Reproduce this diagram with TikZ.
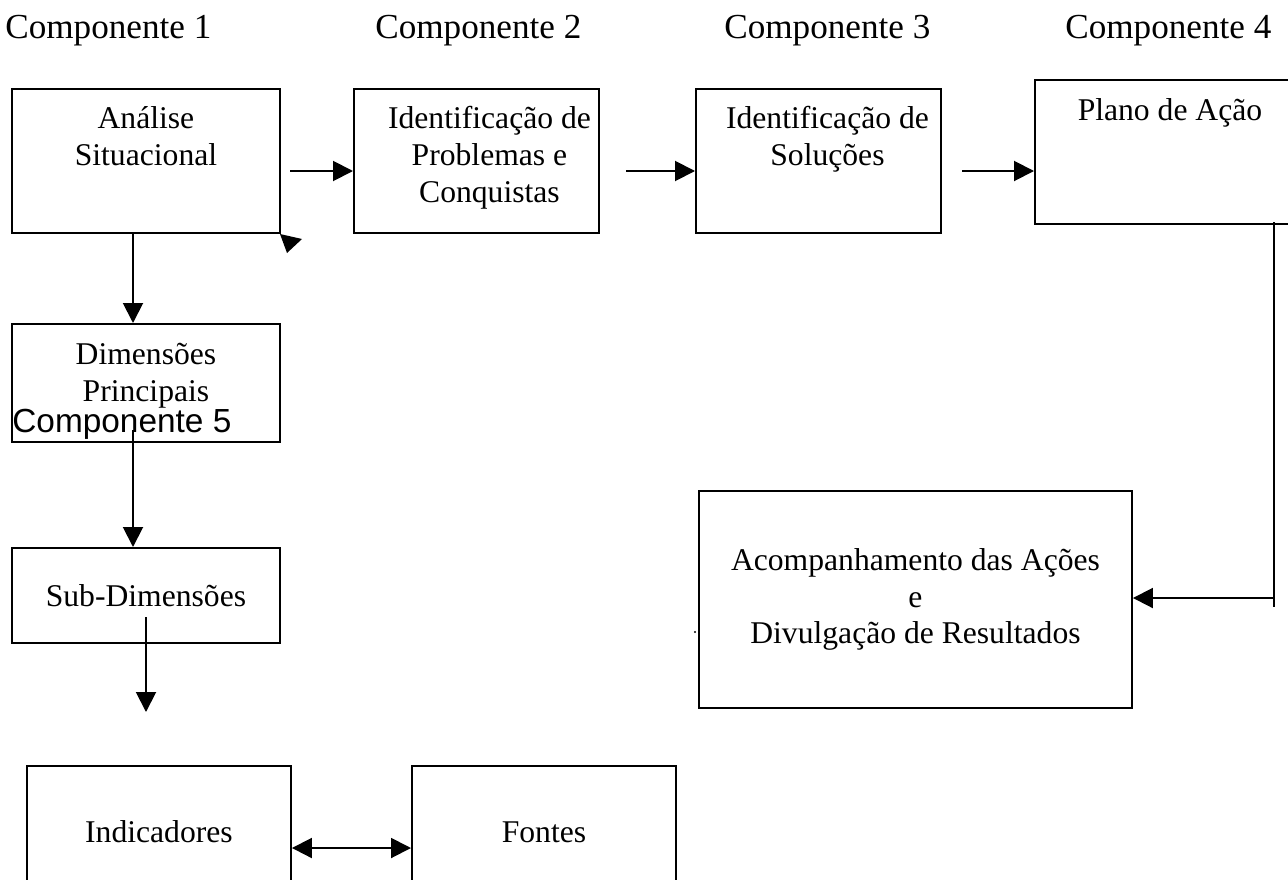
\documentclass[tikz,border=0pt]{standalone}
\usepackage{fontspec}
\setmainfont{Liberation Serif}
\newfontfamily\arialfont{Liberation Sans}
\usetikzlibrary{arrows.meta,positioning}
\tikzset{>={Triangle[length=4mm,width=4mm]}}
\tikzset{
	caixa/.style={draw,line width=1.1pt,inner sep=0pt,anchor=north west},
	rotulo/.style={inner sep=0pt,align=center},
	titulo/.style={inner sep=0pt,anchor=base west,font=\fontsize{20}{23}\selectfont},
	seta/.style={->,line width=1.1pt},
}

\begin{document}
\begin{tikzpicture}[font=\fontsize{18}{21}\selectfont]
	\useasboundingbox (0,0) rectangle (25.76,-17.58);
	% componentes
	\node[titulo] (c1) at (0.1,-0.78) {Componente 1};
	\node[titulo] (c2) at (7.5,-0.78) {Componente 2};
	\node[titulo] (c3) at (14.48,-0.78) {Componente 3};
	\node[titulo] (c4) at (21.3,-0.78) {Componente 4};
	% caixas de cima
	\node[caixa,minimum width=5.36cm,minimum height=2.88cm] (ana) at (0.22,-1.76) {};
	\node[rotulo,below=0.36 of ana.north] (anatxt) {Análise\\Situacional};
	\node[caixa,minimum width=4.9cm,minimum height=2.88cm] (prob) at (7.06,-1.76) {};
	\node[rotulo,below=0.36 of prob.north,xshift=0.26cm] (probtxt) {Identificação de\\Problemas e\\Conquistas};
	\node[caixa,minimum width=4.9cm,minimum height=2.88cm] (sol) at (13.9,-1.76) {};
	\node[rotulo,below=0.36 of sol.north,xshift=0.18cm] (soltxt) {Identificação de\\Soluções};
	\node[caixa,minimum width=5.4cm,minimum height=2.88cm] (plano) at (20.68,-1.58) {};
	\node[rotulo,below=0.38 of plano.north] (planotxt) {Plano de Ação};
	% coluna da esquerda
	\node[caixa,minimum width=5.36cm,minimum height=2.36cm] (dim) at (0.22,-6.46) {};
	\node[rotulo,below=0.4 of dim.north] (dimtxt) {Dimensões\\Principais};
	\node[titulo,font=\arialfont\fontsize{19}{22}\selectfont] (c5) at (0.24,-8.64) {Componente 5};
	\node[caixa,minimum width=5.36cm,minimum height=1.9cm] (sub) at (0.22,-10.94) {Sub-Dimensões};
	\node[caixa,minimum width=5.28cm,minimum height=2.64cm] (ind) at (0.52,-15.3) {Indicadores};
	\node[caixa,minimum width=5.28cm,minimum height=2.64cm] (fon) at (8.22,-15.3) {Fontes};
	\node[caixa,minimum width=8.66cm,minimum height=4.34cm,align=center] (acomp) at (13.96,-9.8) {Acompanhamento das Ações\\e\\Divulgação de Resultados};
	% setas
	\coordinate (h1) at (5.8,-3.42);
	\coordinate (h2) at (12.52,-3.42);
	\coordinate (h3) at (19.24,-3.42);
	\draw[seta] (h1) -- (h1 -| prob.west);
	\draw[seta] (h2) -- (h2 -| sol.west);
	\draw[seta] (h3) -- (h3 -| plano.west);
	\fill (5.6,-4.68) -- (6.04,-4.78) -- (5.74,-5.06) -- cycle;
	\coordinate (v1) at (2.66,-4.64);
	\coordinate (v2) at (2.66,-8.6);
	\coordinate (v3) at (2.92,-12.34);
	\coordinate (v4) at (2.92,-14.24);
	\draw[seta] (v1) -- (v1 |- dim.north);
	\draw[seta] (v2) -- (v2 |- sub.north);
	\draw[seta] (v3) -- (v4);
	\coordinate (m1) at (0,-16.96);
	\draw[seta,<->] (m1 -| ind.east) -- (m1 -| fon.west);
	\coordinate (r1) at (25.48,-4.44);
	\coordinate (r2) at (25.48,-12.14);
	\coordinate (r3) at (25.48,-11.96);
	\draw[line width=1.1pt] (r1) -- (r2);
	\draw[seta] (r3) -- (r3 -| acomp.east);
	\fill (13.9,-12.64) circle (0.6pt);
\end{tikzpicture}
\end{document}
